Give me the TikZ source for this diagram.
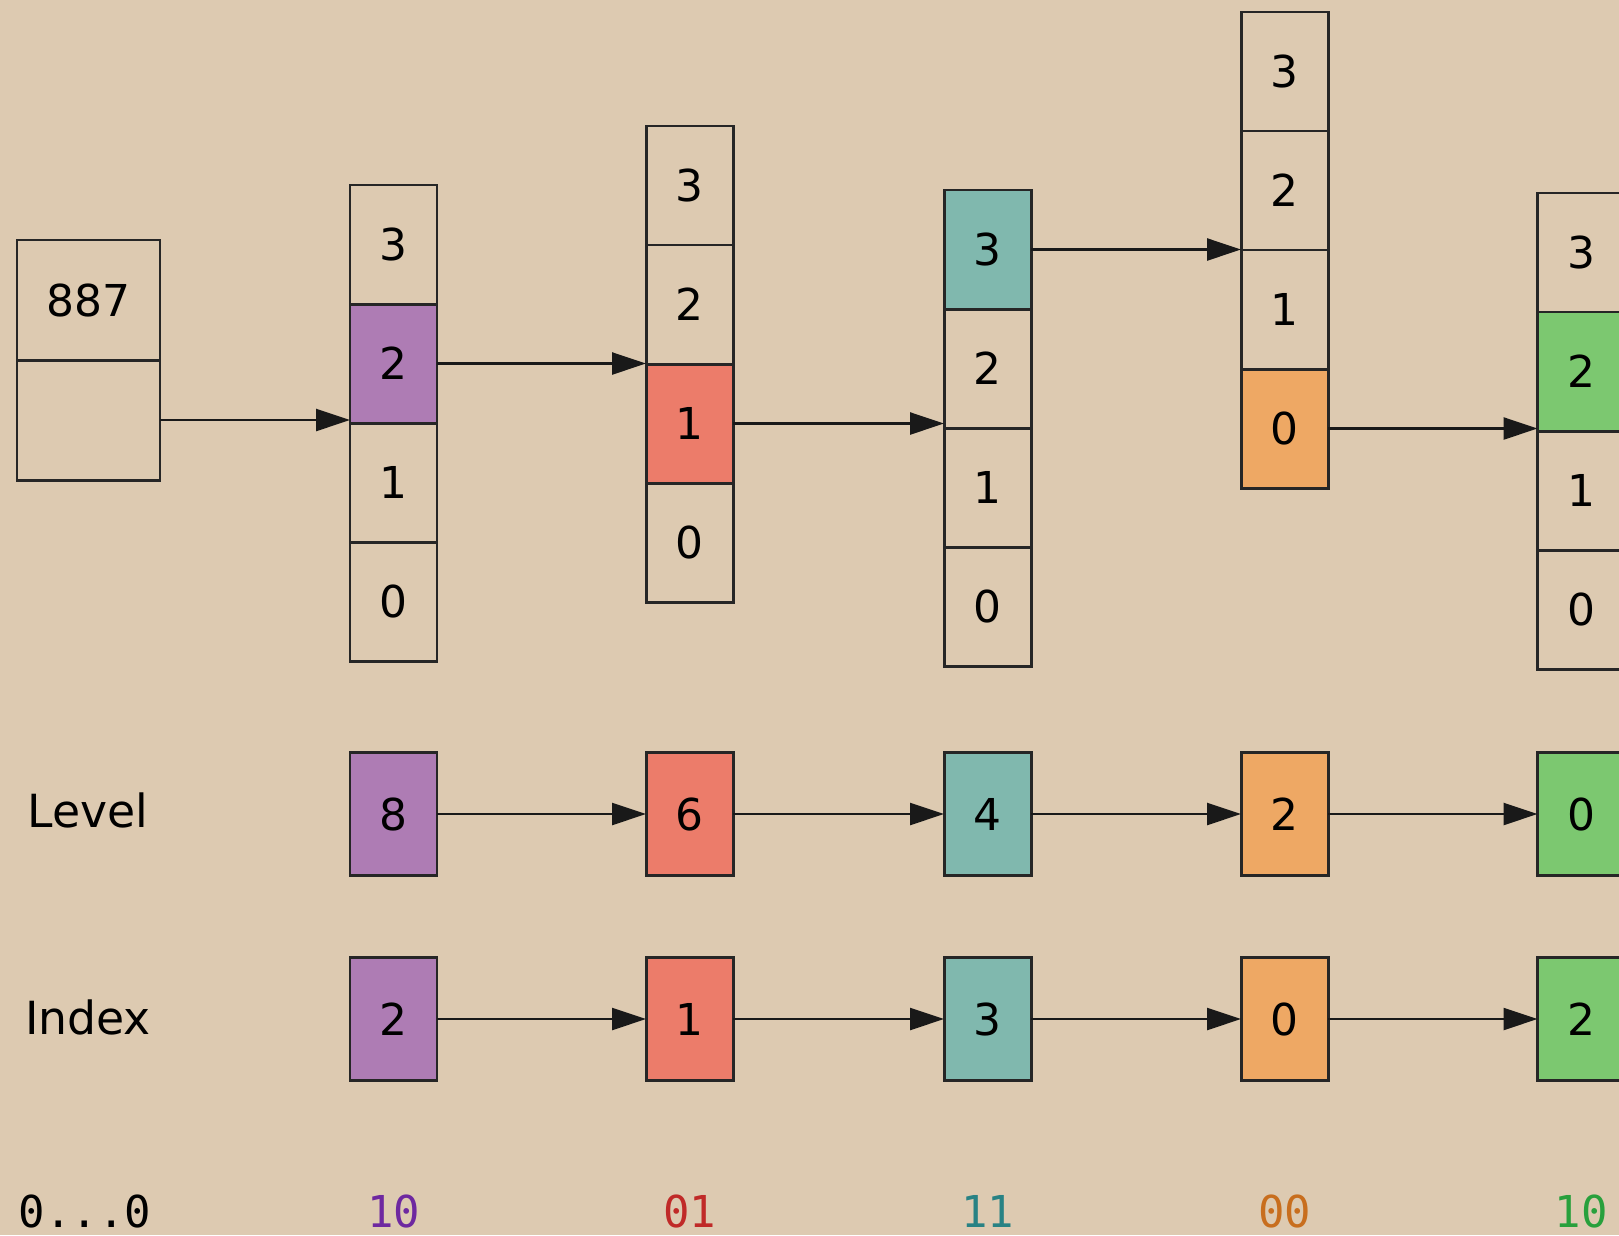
\documentclass[tikz,border=0pt]{standalone}
\usepackage{fontspec}
\setmainfont{DejaVu Sans}
\setmonofont{DejaVu Sans Mono}
\usepackage{tikz}
\usetikzlibrary{arrows.meta,positioning}
\definecolor{paper}{RGB}{221,202,177}
\definecolor{hpurple}{RGB}{174,124,180}
\definecolor{hred}{RGB}{236,124,106}
\definecolor{hteal}{RGB}{128,184,174}
\definecolor{horange}{RGB}{238,168,100}
\definecolor{hgreen}{RGB}{124,200,112}
\definecolor{tpurple}{RGB}{110,40,160}
\definecolor{tred}{RGB}{192,42,40}
\definecolor{tteal}{RGB}{40,130,132}
\definecolor{torange}{RGB}{200,110,30}
\definecolor{tgreen}{RGB}{40,160,60}
\tikzset{
    cellbox/.style={
        draw=black!85,
        line width=0.85pt,
        minimum width=0.87cm,
        minimum height=1.19cm,
        inner sep=0pt,
        outer sep=0pt,
        font=\fontsize{12.5}{15}\selectfont
    },
    % boxes of the level and index rows
    rowbox/.style={
        cellbox,
        minimum height=1.23cm
    },
    linkarrow/.style={
        line width=0.7pt,
        black!90,
        -{Triangle[length=0.34cm, width=0.22cm]}
    },
    rowlabel/.style={font=\fontsize{13}{15}\selectfont},
    bitlabel/.style={font=\ttfamily\fontsize{12.5}{15}\selectfont}
}
\begin{document}
\begin{tikzpicture}
    \fill[paper] (0,0) rectangle (16.19,-12.35);
    \useasboundingbox (0,0) rectangle (16.19,-12.35);

    % key box
    \node[cellbox,minimum width=1.43cm,minimum height=1.2cm] (key) at (0.885,-3.0) {887};
    \node[cellbox,minimum width=1.43cm,minimum height=1.2cm,below=0pt of key] (keyptr) {};

    % arrays
    \node[cellbox] (a3) at (3.935,-2.445) {3};
    \node[cellbox,fill=hpurple,below=0pt of a3] (a2) {2};
    \node[cellbox,below=0pt of a2] (a1) {1};
    \node[cellbox,below=0pt of a1] (a0) {0};

    \node[cellbox] (b3) at (6.895,-1.855) {3};
    \node[cellbox,below=0pt of b3] (b2) {2};
    \node[cellbox,fill=hred,below=0pt of b2] (b1) {1};
    \node[cellbox,below=0pt of b1] (b0) {0};

    \node[cellbox,fill=hteal] (c3) at (9.875,-2.495) {3};
    \node[cellbox,below=0pt of c3] (c2) {2};
    \node[cellbox,below=0pt of c2] (c1) {1};
    \node[cellbox,below=0pt of c1] (c0) {0};

    \node[cellbox] (d3) at (12.845,-0.715) {3};
    \node[cellbox,below=0pt of d3] (d2) {2};
    \node[cellbox,below=0pt of d2] (d1) {1};
    \node[cellbox,fill=horange,below=0pt of d1] (d0) {0};

    \node[cellbox] (e3) at (15.81,-2.525) {3};
    \node[cellbox,fill=hgreen,below=0pt of e3] (e2) {2};
    \node[cellbox,below=0pt of e2] (e1) {1};
    \node[cellbox,below=0pt of e1] (e0) {0};

    \draw[linkarrow] (keyptr.east) -- (keyptr.east -| a1.west);
    \draw[linkarrow] (a2.east) -- (a2.east -| b1.west);
    \draw[linkarrow] (b1.east) -- (b1.east -| c1.west);
    \draw[linkarrow] (c3.east) -- (c3.east -| d1.west);
    \draw[linkarrow] (d0.east) -- (d0.east -| e1.west);

    % level row
    \node[rowlabel] (levellabel) at (0.88,-8.10) {Level};
    \node[rowbox,fill=hpurple] (lv8) at (3.935,-8.14) {8};
    \node[rowbox,fill=hred] (lv6) at (6.895,-8.14) {6};
    \node[rowbox,fill=hteal] (lv4) at (9.875,-8.14) {4};
    \node[rowbox,fill=horange] (lv2) at (12.845,-8.14) {2};
    \node[rowbox,fill=hgreen] (lv0) at (15.81,-8.14) {0};
    \draw[linkarrow] (lv8) -- (lv6);
    \draw[linkarrow] (lv6) -- (lv4);
    \draw[linkarrow] (lv4) -- (lv2);
    \draw[linkarrow] (lv2) -- (lv0);

    % index row
    \node[rowlabel] (indexlabel) at (0.88,-10.17) {Index};
    \node[rowbox,fill=hpurple] (ix2) at (3.935,-10.19) {2};
    \node[rowbox,fill=hred] (ix1) at (6.895,-10.19) {1};
    \node[rowbox,fill=hteal] (ix3) at (9.875,-10.19) {3};
    \node[rowbox,fill=horange] (ix0) at (12.845,-10.19) {0};
    \node[rowbox,fill=hgreen] (ix2b) at (15.81,-10.19) {2};
    \draw[linkarrow] (ix2) -- (ix1);
    \draw[linkarrow] (ix1) -- (ix3);
    \draw[linkarrow] (ix3) -- (ix0);
    \draw[linkarrow] (ix0) -- (ix2b);

    % hash bits
    \node[bitlabel] (bits0) at (0.85,-12.11) {0...0};
    \node[bitlabel,tpurple] (bits1) at (3.935,-12.11) {10};
    \node[bitlabel,tred] (bits2) at (6.895,-12.11) {01};
    \node[bitlabel,tteal] (bits3) at (9.875,-12.11) {11};
    \node[bitlabel,torange] (bits4) at (12.845,-12.11) {00};
    \node[bitlabel,tgreen] (bits5) at (15.81,-12.11) {10};
\end{tikzpicture}
\end{document}
